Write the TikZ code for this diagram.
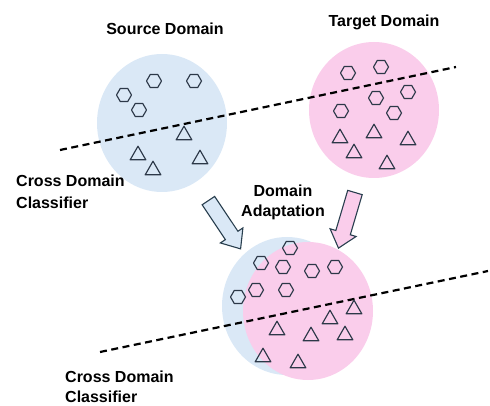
\documentclass[tikz,border=0pt]{standalone}
\usepackage{fontspec}
\setmainfont{Liberation Sans}
\usetikzlibrary{shapes.arrows}
\definecolor{cblue}{RGB}{218,232,246}
\definecolor{cpink}{RGB}{250,205,235}
\definecolor{cline}{RGB}{44,56,72}
\definecolor{carrow}{RGB}{40,62,78}
\tikzset{
  mk/.style={draw=cline, line width=1.15pt, line join=round},
  hexa/.pic={\draw[mk] (7.5,0)--(3.75,6.5)--(-3.75,6.5)--(-7.5,0)--(-3.75,-6.5)--(3.75,-6.5)--cycle;},
  tria/.pic={\draw[mk] (-7.8,6.8)--(7.8,6.8)--(0,-6.8)--cycle;},
  sep/.style={line width=2.2pt, dash pattern=on 7pt off 4.5pt, black},
  bigarrow/.style={single arrow, draw=carrow, line width=1.1pt, inner sep=7pt,
    minimum height=58pt, single arrow head extend=6pt, single arrow tip angle=80,
    single arrow head indent=0pt},
  lbl/.style={font=\fontsize{16}{21}\selectfont\bfseries, inner sep=0pt, text=black},
}
\begin{document}
\begin{tikzpicture}[x=1pt,y=-1pt]
\useasboundingbox (0,0) rectangle (490,406);
% domains
\fill[cblue] (162,123) ellipse [x radius=65, y radius=69];
\fill[cpink] (374,110) ellipse [x radius=65, y radius=68];
\fill[cblue] (287,306) ellipse [x radius=65, y radius=69];
\fill[cpink] (308,311) ellipse [x radius=65, y radius=69];
% classifier lines
\coordinate (l1a) at (60,150);
\coordinate (l1b) at (456,67);
\coordinate (l2a) at (100,352);
\coordinate (l2b) at (488,271);
\draw[sep] (l1a) -- (l1b);
\draw[sep] (l2a) -- (l2b);
% source samples
\foreach \p in {(154,81),(194,81),(124,95),(139,110)} \pic at \p {hexa};
\foreach \p in {(184,133),(138,153),(200,157),(153,168)} \pic at \p {tria};
% target samples
\foreach \p in {(348,73),(381,67),(376,98),(408,92),(341,111),(394,113)} \pic at \p {hexa};
\foreach \p in {(340,136),(374,131),(408,138),(354,151),(387,162)} \pic at \p {tria};
% adapted samples
\foreach \p in {(290,248),(261,263),(283,267),(312,271),(335,267),(238,297),(256,290),(286,290)} \pic at \p {hexa};
\foreach \p in {(354,307),(330,317),(277,328),(311,334),(345,333),(263,355),(298,361)} \pic at \p {tria};
% arrows
\node[bigarrow, fill=cblue, rotate=-56.3] (arrS) at (222,221) {};
\node[bigarrow, fill=cpink, rotate=-106.5] (arrT) at (348,216) {};
% labels
\node[lbl, anchor=base] (src) at (165,35) {Source Domain};
\node[lbl, anchor=base] (tgt) at (384,27) {Target Domain};
\node[lbl, anchor=north west, align=left, font=\fontsize{16}{22}\selectfont\bfseries] (cdc1) at (16,175) {Cross Domain\\Classifier};
\node[lbl, anchor=north, align=center, font=\fontsize{16}{20}\selectfont\bfseries] (da) at (283,185) {Domain\\Adaptation};
\node[lbl, anchor=north west, align=left, font=\fontsize{16}{20}\selectfont\bfseries] (cdc2) at (65,371) {Cross Domain\\Classifier};
\end{tikzpicture}
\end{document}
